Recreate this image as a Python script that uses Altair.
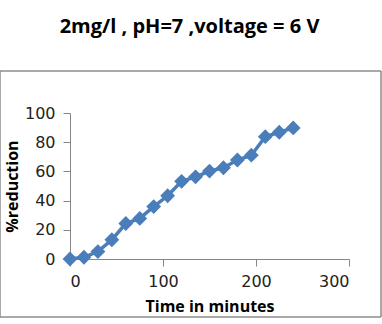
import altair as alt
import pandas as pd

# Reduction measured every 15 minutes
minutes = [0, 15, 30, 45, 60, 75, 90, 105, 120, 135, 150, 165, 180, 195, 210, 225, 240]
reduction = [0, 1.2, 5.1, 13.2, 24.3, 27.8, 35.9, 43.3, 53.2, 56.3, 60.2, 62.5, 67.8, 71.1, 83.8, 86.8, 89.8]
x_ticks = [0, 100, 200, 300]
y_ticks = [0, 20, 40, 60, 80, 100]

df = pd.DataFrame({"t": minutes, "r": reduction})
one = pd.DataFrame({"k": [0]})

blue = "#4a7ebb"
frame_gray = "#8c8c8c"
label_font = "DejaVu Sans"
bold_font = "Open Sans"

x = alt.X(
    "t:Q",
    scale=alt.Scale(domain=[0, 300], nice=False),
    axis=alt.Axis(
        values=x_ticks, title="Time in minutes",
        titleFont=bold_font, titleFontSize=16, titleFontWeight="bold", titleColor="#000",
        titlePadding=9, labelOverlap=False,
        labelFont=label_font, labelFontSize=16, labelColor="#222", labelPadding=7,
        domainColor="#868686", tickColor="#868686", tickSize=7, grid=False,
    ),
)
y = alt.Y(
    "r:Q",
    scale=alt.Scale(domain=[0, 100], nice=False),
    axis=alt.Axis(
        values=y_ticks, title="%reduction",
        titleFont=bold_font, titleFontSize=16, titleFontWeight="bold", titleColor="#000",
        titlePadding=4, labelOverlap=False,
        labelFont=label_font, labelFontSize=16, labelColor="#222", labelPadding=8,
        domainColor="#868686", tickColor="#868686", tickSize=7, grid=False,
    ),
)

line = alt.Chart(df).mark_line(color=blue, strokeWidth=3.5).encode(x=x, y=y)
points = alt.Chart(df).mark_point(
    shape="diamond", filled=True, color=blue, size=220, opacity=1
).encode(x=x, y=y)

# Outer gray frame drawn as four rules around the chart body
def hrule(ypos):
    return alt.Chart(one).mark_rule(color=frame_gray, strokeWidth=1.5).encode(
        x=alt.value(-70), x2=alt.value(311), y=alt.value(ypos)
    )

def vrule(xpos):
    return alt.Chart(one).mark_rule(color=frame_gray, strokeWidth=1.5).encode(
        x=alt.value(xpos), y=alt.value(-42), y2=alt.value(204)
    )

frame = [hrule(-42), hrule(204), vrule(-70), vrule(311)]

chart = (
    alt.layer(*frame, line, points)
    .properties(
        width=279,
        height=146,
        background="white",
        autosize=alt.AutoSizeParams(type="none"),
        padding={"left": 70, "top": 113, "right": 33, "bottom": 65},
        title=alt.TitleParams(
            "2mg/l , pH=7 ,voltage = 6 V",
            font=bold_font, fontSize=20, fontWeight="bold", color="#000",
            anchor="middle", dx=-20, offset=33,
        ),
    )
    .configure_view(strokeWidth=0, stroke="transparent")
    .configure_axis(grid=False)
)

chart.save("out.html", embed_options={"renderer": "svg", "actions": False})
